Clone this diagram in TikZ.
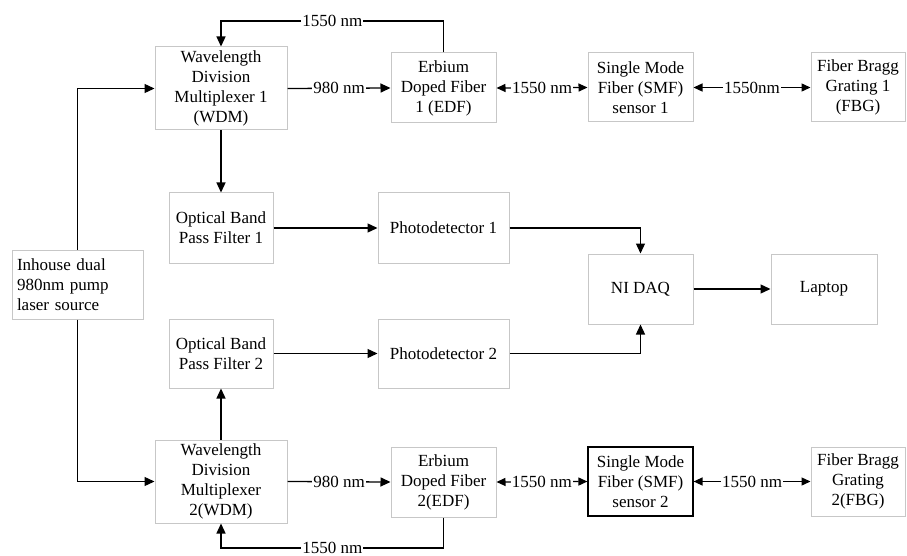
\documentclass[tikz,border=0pt]{standalone}
\usepackage{fontspec}
\setmainfont{Liberation Serif}
\usetikzlibrary{arrows.meta,calc}
\begin{document}
\begin{tikzpicture}[x=1pt,y=-1pt,
  every node/.style={font=\fontsize{17}{20}\selectfont},
  blk/.style={draw=black!22, line width=1pt, fill=white, align=center, inner sep=2pt},
  blkdark/.style={blk, draw=black, line width=1.2pt},
  arr/.style={-{Triangle[length=10pt,width=9pt]}, line width=1.3pt, draw=black},
  darr/.style={{Triangle[length=9pt,width=8pt]}-{Triangle[length=9pt,width=8pt]}, line width=1.3pt, draw=black},
  lbl/.style={fill=white, inner sep=1pt}
]
\useasboundingbox (0,0) rectangle (907,556);

% top row
\node[blk, minimum width=132pt, minimum height=83pt] (wdm1) at (221,88.5) {Wavelength\\Division\\Multiplexer 1\\(WDM)};
\node[blk, minimum width=105pt, minimum height=70pt] (edf1) at (443.5,88) {Erbium\\Doped Fiber\\1 (EDF)};
\node[blk, minimum width=105pt, minimum height=69pt] (smf1) at (640.5,87.5) {Single Mode\\Fiber (SMF)\\sensor 1};
\node[blk, minimum width=94pt, minimum height=69pt] (fbg1) at (858,87.5) {Fiber Bragg\\Grating 1\\(FBG)};

% source
\node[blk, minimum width=131pt, minimum height=69pt, text width=121pt, align=left, inner sep=5pt] (src) at (77.5,284.5) {Inhouse dual\\980nm pump\\laser source};

% middle
\node[blk, minimum width=104pt, minimum height=70pt] (obpf1) at (221,228) {Optical Band\\Pass Filter 1};
\node[blk, minimum width=131pt, minimum height=70pt] (pd1) at (443.5,228) {Photodetector 1};
\node[blk, minimum width=104pt, minimum height=69pt] (obpf2) at (221,353.5) {Optical Band\\Pass Filter 2};
\node[blk, minimum width=131pt, minimum height=69pt] (pd2) at (443.5,353.5) {Photodetector 2};
\node[blk, minimum width=105pt, minimum height=70pt] (daq) at (640.5,289) {NI DAQ};
\node[blk, minimum width=106pt, minimum height=70pt] (lap) at (824,289) {Laptop};

% bottom row
\node[blk, minimum width=132pt, minimum height=83pt] (wdm2) at (221,481.5) {Wavelength\\Division\\Multiplexer\\2(WDM)};
\node[blk, minimum width=105pt, minimum height=70pt] (edf2) at (443.5,482) {Erbium\\Doped Fiber\\2(EDF)};
\node[blkdark, minimum width=105pt, minimum height=69pt] (smf2) at (640.5,481.5) {Single Mode\\Fiber (SMF)\\sensor 2};
\node[blk, minimum width=94pt, minimum height=69pt] (fbg2) at (858,481.5) {Fiber Bragg\\Grating\\2(FBG)};

% loop coordinates
\coordinate (t1) at (443.5,21);
\coordinate (b1) at (443.5,548);

% connectors
\draw[arr] (src.north) |- (wdm1.west);
\draw[arr] (src.south) |- (wdm2.west);

\draw[arr] (wdm1.east) -- node[lbl] {980 nm} (edf1.west);
\draw[darr] (edf1.east) -- node[lbl] {1550 nm} (smf1.west);
\draw[darr] (smf1.east) -- node[lbl] {1550nm} (fbg1.west);
\draw[arr] (edf1.north) -- (t1) -- node[lbl] {1550 nm} (t1 -| wdm1.north) -- (wdm1.north);

\draw[arr] (wdm2.east) -- node[lbl] {980 nm} (edf2.west);
\draw[darr] (edf2.east) -- node[lbl] {1550 nm} (smf2.west);
\draw[darr] (smf2.east) -- node[lbl] {1550 nm} (fbg2.west);
\draw[arr] (edf2.south) -- (b1) -- node[lbl] {1550 nm} (b1 -| wdm2.south) -- (wdm2.south);

\draw[arr] (wdm1.south) -- (obpf1.north);
\draw[arr] (wdm2.north) -- (obpf2.south);
\draw[arr] (obpf1.east) -- (pd1.west);
\draw[arr] (obpf2.east) -- (pd2.west);
\draw[arr] (pd1.east) -| (daq.north);
\draw[arr] (pd2.east) -| (daq.south);
\draw[arr] (daq.east) -- (lap.west);
\end{tikzpicture}
\end{document}
